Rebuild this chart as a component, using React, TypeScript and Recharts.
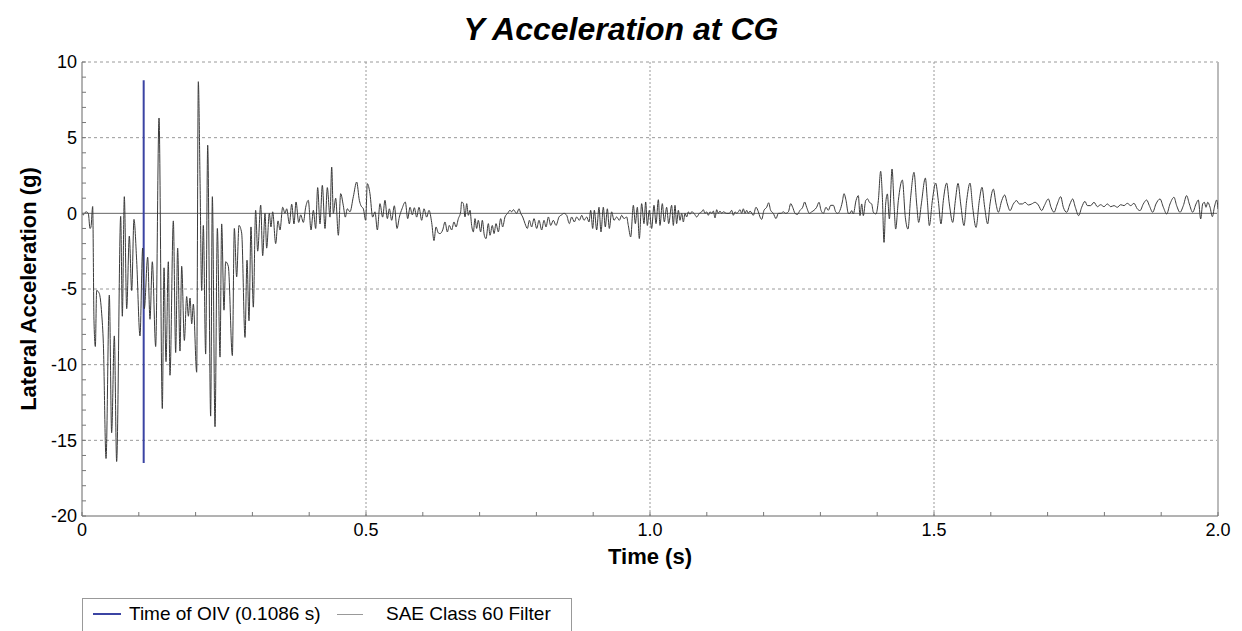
import { Line, LineChart, ReferenceLine, XAxis, YAxis } from 'recharts';

const FONT = '"Liberation Sans", Arial, sans-serif';
const SIGNAL_COLOR = '#3a3a3a';
const OIV_COLOR = '#3b44a3';
const GRID_COLOR = '#9a9a9a';

// Peak by peak: [time s, lateral accel g]
const impactPhase: [number, number][] = [
  [0, 0], [0.0023, -0.1], [0.007, 0.1], [0.0111, 0], [0.0141, -1.0], [0.0158, -0.9], [0.0188, 0.45],
  [0.0211, -7.1], [0.0235, -8.8], [0.0258, -5.1], [0.0305, -5.3], [0.0346, -6.6], [0.0376, -8.6],
  [0.0423, -16.2], [0.0481, -5.4], [0.0522, -14.5], [0.0569, -8.1], [0.061, -16.4], [0.0681, -0.2],
  [0.071, -6.8], [0.0745, 1.1], [0.0787, -6.3], [0.0833, -1.5], [0.0875, -5.1], [0.0915, -0.4],
  [0.0962, -3.1], [0.1021, -8.1], [0.1068, -2.3], [0.1097, -6.3], [0.1156, -2.9], [0.1197, -7.0],
  [0.1238, -3.2], [0.1297, -8.8], [0.1356, 6.3], [0.1414, -12.9], [0.1444, -3.6], [0.1479, -9.8],
  [0.152, -3.2],
];

const reboundPhase: [number, number][] = [
  [0.1549, -10.7], [0.1608, -0.5], [0.1649, -9.2], [0.1684, -2.3], [0.1725, -9.1], [0.1755, -3.5],
  [0.1802, -8.4], [0.1843, -5.5], [0.1873, -6.8], [0.1902, -5.6], [0.1932, -7.3], [0.196, -6.0],
  [0.2019, -10.5], [0.2048, 8.7], [0.2078, 2.2], [0.2107, -5.1], [0.2136, -0.8], [0.2177, -9.3],
  [0.2213, 4.5], [0.2265, -13.4], [0.2295, 1.1], [0.2342, -14.1], [0.2383, -1.0], [0.243, -9.5],
  [0.2459, -0.7], [0.25, -6.4], [0.2529, -3.2], [0.2576, -3.5], [0.2647, -9.4], [0.2682, -1.0],
  [0.2723, -4.2], [0.2764, -0.8], [0.2811, -1.3], [0.287, -8.2], [0.2905, -3.1], [0.294, -7.1],
  [0.2975, -0.9], [0.3016, -6.2], [0.3057, 0.2], [0.3093, -2.5], [0.3146, 0.55], [0.3181, -2.8],
  [0.3222, 0],
];

const settlingPhase: [number, number][] = [
  [0.3251, -2.3], [0.3298, 0], [0.3327, -0.9], [0.3357, 0.1], [0.341, -2.0], [0.3451, -0.5],
  [0.3486, -1.1], [0.3533, 0.4], [0.3574, 0], [0.3604, 0.3], [0.3651, -0.7], [0.3692, 0.6],
  [0.3732, -0.7], [0.3768, 0.75], [0.3815, -0.6], [0.385, -0.1], [0.3897, -0.6], [0.3938, 0.4],
  [0.3984, 0.86], [0.4032, -1.1], [0.4073, 0.2], [0.4114, -1.0], [0.4149, 1.7], [0.419, -0.7],
  [0.4231, 1.85], [0.4278, -1.0], [0.4319, 1.7], [0.4366, -0.25], [0.4396, 3.06], [0.4425, 0],
  [0.4466, 1.0], [0.4513, -1.45], [0.4554, 1.3], [0.4601, 0.5], [0.4636, -0.25], [0.4671, 0.3],
  [0.4718, 0.1], [0.4777, 1.1], [0.4836, 2.07], [0.4883, 0.86], [0.4912, 0.5], [0.4953, 0.3],
  [0.4994, -0.46], [0.5023, 1.96], [0.507, 1.3], [0.5117, -0.25], [0.5158, 0.1], [0.52, -1.1],
  [0.5246, 0.64], [0.5293, -0.25], [0.5334, 0.86], [0.5376, -0.35], [0.5411, 0.3], [0.5452, -0.46],
  [0.5499, 0.5], [0.5546, -1.0], [0.5587, -0.25], [0.5634, 0.3], [0.5692, 0.75], [0.5734, -0.35],
  [0.5775, 0.4], [0.5816, -0.1], [0.5851, 0.37], [0.5892, -0.25], [0.5933, 0.4], [0.598, -0.46],
  [0.6021, 0.3], [0.6068, -0.25], [0.6109, 0.2], [0.6156, -0.6], [0.6197, -1.8], [0.6232, -0.9],
  [0.6274, -1.3],
];

const lowLevelPhase: [number, number][] = [
  [0.6303, -1.34], [0.635, -1.1], [0.6391, -0.57], [0.6432, -1.23], [0.6467, -0.8], [0.6508, -1.1],
  [0.6549, -0.57], [0.6585, -0.9], [0.6626, -0.35], [0.6667, 0.1], [0.6684, 0.75], [0.6714, 0.64],
  [0.6743, -0.24], [0.6773, 0.64], [0.6802, -0.13], [0.6831, 0.2], [0.686, -0.8], [0.689, -1.23],
  [0.6919, -0.35], [0.6948, -1.0], [0.6977, -0.46], [0.7019, -1.23], [0.7048, -0.46], [0.7083, -1.45],
  [0.7113, -1.67], [0.7154, -0.68], [0.7183, -1.45], [0.7224, -0.8], [0.7254, -1.34], [0.7289, -0.68],
  [0.733, -1.23], [0.7371, -0.35], [0.7406, -0.9], [0.7447, -0.24], [0.7494, 0], [0.7535, 0.2],
  [0.7565, 0.1], [0.7594, 0.24], [0.7653, 0], [0.7694, 0.3], [0.7723, 0], [0.7759, -0.24],
  [0.78, -0.68], [0.7841, -1.0], [0.7876, -0.46], [0.7917, -0.9], [0.7958, -0.35], [0.8005, -1.0],
  [0.8046, -0.46], [0.8093, -1.1], [0.8134, -0.46], [0.8169, -0.9], [0.8211, -0.24], [0.8252, -0.8],
  [0.8298, -0.46], [0.8345, -0.8], [0.8398, -0.24], [0.8445, -0.1], [0.8486, 0], [0.8533, -0.13],
  [0.858, -0.68], [0.8621, -0.24], [0.8668, -0.57], [0.8709, -0.24], [0.8756, -0.46], [0.8798, -0.13],
  [0.8838, -0.46], [0.8885, -0.24], [0.8926, -0.57], [0.8956, 0.2], [0.8991, -1.0], [0.902, 0.2],
  [0.9061, -1.1], [0.9102, 0.4], [0.9137, -1.23], [0.9178, 0.4], [0.9213, -0.9], [0.9249, 0.3],
  [0.9284, -1.0], [0.9325, 0.1], [0.9366, -0.46], [0.9413, -0.24], [0.946, -0.46], [0.9501, -0.13],
  [0.9542, -0.35], [0.9589, -0.24], [0.9618, -0.8], [0.966, -1.56], [0.9707, 0.53], [0.9742, -0.68],
  [0.9777, 0.4], [0.9812, -1.67], [0.9853, 0.64], [0.9894, -0.68], [0.9924, 0.75], [0.9953, -0.8],
  [0.9988, 0.2], [1.0029, -1.0], [1.007, 0.53], [1.0106, -0.68], [1.0147, 0.9], [1.0176, -0.8],
  [1.0217, 0.64], [1.0252, -0.57], [1.0293, 0.4], [1.0329, -0.68],
];

const quietPhase: [number, number][] = [
  [1.0381, 0.53], [1.0411, -0.8], [1.044, 0.53], [1.0469, -0.68], [1.0499, 0.2], [1.0528, -0.46],
  [1.0558, 0], [1.0587, -0.57], [1.0616, 0], [1.0646, -0.24], [1.0675, 0.1], [1.0704, -0.07],
  [1.0734, 0.1], [1.0775, 0], [1.0822, -0.24], [1.0869, 0], [1.091, 0.1], [1.0939, 0.24],
  [1.0968, 0], [1.0998, 0.1], [1.1027, -0.13], [1.1056, 0.1], [1.1086, 0], [1.1115, 0.15],
  [1.1145, -0.3], [1.1174, 0.24], [1.1203, 0], [1.1232, 0.15], [1.1262, 0], [1.1291, 0.1],
  [1.135, 0], [1.1397, 0], [1.1438, 0.2], [1.1467, -0.13], [1.1497, 0.1], [1.1526, 0],
  [1.1555, 0.1], [1.1585, 0.24], [1.1614, 0], [1.1643, 0.3], [1.1673, 0], [1.1702, 0.2],
  [1.1731, 0], [1.1761, 0.15], [1.1819, -0.13], [1.1866, 0.4], [1.1908, 0.1], [1.1937, -0.24],
  [1.1966, -0.4], [1.2007, 0.2], [1.2054, 0.4], [1.2089, 0.7], [1.2124, 0.2], [1.2171, 0],
  [1.2218, -0.35], [1.226, 0], [1.2307, 0], [1.2348, 0.1], [1.2389, 0], [1.2436, 0.1],
  [1.2477, 0.64], [1.2512, 0.4], [1.2553, 0], [1.2594, -0.07], [1.2641, 0.2], [1.2688, 0.4],
  [1.2723, 0.75], [1.2758, 0.4], [1.2806, 0], [1.2847, 0.1], [1.2887, 0.2], [1.2934, 0.4],
  [1.2975, 0.73], [1.3011, 0.2], [1.3052, 0], [1.3099, 0.4], [1.314, 0.2], [1.3181, 0.53],
  [1.3228, 0.53], [1.3269, 0.1], [1.3305, 0], [1.3345, 0.2], [1.3386, 0.75], [1.3415, 1.3],
  [1.3451, 0.86], [1.3492, 0],
];

const ringingPhase: [number, number][] = [
  [1.3521, 0], [1.355, 0.18], [1.358, -0.04], [1.3627, 0.84], [1.3668, 1.17], [1.3697, -0.15],
  [1.3727, 0.62], [1.3756, -0.15], [1.3797, 0.84], [1.3832, 0.95], [1.3862, 0.73], [1.3903, 0.62],
  [1.3932, 0.07], [1.3979, -0.04], [1.402, 0.84], [1.4061, 2.78], [1.4091, 1.06], [1.412, -1.92],
  [1.4149, 0.62], [1.4179, 1.28], [1.4214, -0.37], [1.4261, 2.93], [1.4296, 0.62], [1.4325, -1.04],
  [1.4372, 0.84], [1.4443, 2.2], [1.4495, -0.26], [1.4542, -1.04], [1.4589, 1.06], [1.4648, 2.71],
  [1.4695, 0.62], [1.473, -0.6], [1.4777, 0.62], [1.4848, 2.33], [1.4883, 0.84], [1.4918, -0.81],
  [1.4971, 0.84], [1.5029, 2.0], [1.5076, 0.84], [1.5123, -0.7], [1.5164, 0.84], [1.5223, 2.0],
  [1.527, 0.62], [1.5329, -0.6], [1.5376, 0.84], [1.5423, 1.98], [1.547, 0.62], [1.5528, -0.81],
  [1.5575, 0.84], [1.5634, 2.0], [1.5681, 0.4], [1.574, -0.93], [1.5798, 0.84], [1.5845, 1.72],
  [1.5892, 0.4], [1.5945, -0.7], [1.5986, 0.62], [1.6045, 1.6], [1.6092, 0.62], [1.6133, 0.07],
  [1.6192, 0.84], [1.6244, 1.21], [1.6291, 0.62], [1.6338, 0.18], [1.6397, 0.62], [1.6455, 0.84],
  [1.6502, 0.62], [1.6556, 0.62], [1.6603, 0.73], [1.6661, 0.55], [1.672, 0.62], [1.6779, 0.73],
  [1.6837, 0.55], [1.6896, 0.18], [1.6943, 0.51], [1.7013, 0.95], [1.706, 0.4], [1.7113, 0.07],
  [1.7171, 0.62], [1.723, 1.1], [1.7277, 0.4], [1.7336, 0.07], [1.7394, 0.62], [1.7441, 0.95],
  [1.7488, 0.4], [1.7547, -0.15], [1.76, 0.4], [1.7658, 0.79], [1.77, 0.51], [1.7758, 0.51],
  [1.7817, 0.73], [1.7876, 0.44], [1.7934, 0.57], [1.7993, 0.44], [1.8052, 0.62], [1.8111, 0.44],
  [1.8169, 0.51], [1.8228, 0.4], [1.8286, 0.57], [1.8345, 0.51], [1.8404, 0.66], [1.8463, 0.51],
  [1.8521, 0.66], [1.858, 0.29], [1.8627, 0.18], [1.8685, 0.62], [1.8744, 0.88], [1.8791, 0.51],
  [1.885, 0.07], [1.8908, 0.62], [1.8979, 0.95], [1.9038, 0.4], [1.9096, -0.04], [1.9155, 0.62],
  [1.9225, 1.06], [1.9272, 0.51], [1.9331, 0.07], [1.939, 0.51], [1.9448, 1.17], [1.9495, 0.62],
  [1.9554, 0.07], [1.9613, 0.62], [1.9654, 0.88], [1.9695, -0.37], [1.973, 0.62], [1.976, 0.73],
  [1.9789, 0.4], [1.9819, 0.73], [1.986, 0.4], [1.9901, -0.22], [1.9936, 0.4], [1.9977, 0.88],
  [2.0, 0.29],
];

// Time of OIV marker and its vertical extent
const oivTime = 0.1086;
const oivRange = [-16.5, 8.8];

const xLabels = [0, 0.5, 1.0, 1.5, 2.0];
const yLabels = [-20, -15, -10, -5, 0, 5, 10];
const xGrid = [0.5, 1.0, 1.5];
const yGrid = [-15, -10, -5, 5, 10];

// minor tick positions: every 0.1 s and every 1 g
const xTicks = Array.from({ length: 21 }, (_, i) => i / 10);
const yTicks = Array.from({ length: 31 }, (_, i) => i - 20);

const signal = [...impactPhase, ...reboundPhase, ...settlingPhase, ...lowLevelPhase, ...quietPhase, ...ringingPhase].map(
  ([t, g]) => ({ t, g }),
);
const oivLine = oivRange.map((g) => ({ t: oivTime, g }));

const isLabel = (v: number, list: number[]) => list.some((l) => Math.abs(l - v) < 1e-6);

function XTick({ x, y, payload }: any) {
  const v = payload.value;
  return (
    <g>
      <line x1={x} x2={x} y1={y} y2={y - 4} stroke="#777" />
      {isLabel(v, xLabels) && (
        <text x={x} y={y + 6} dy="0.8em" textAnchor="middle" fontSize={18} fontFamily={FONT} fill="#000">
          {v === 0 ? '0' : v.toFixed(1)}
        </text>
      )}
    </g>
  );
}

function YTick({ x, y, payload }: any) {
  const v = payload.value;
  return (
    <g>
      <line x1={x} x2={x + 4} y1={y} y2={y} stroke="#777" />
      {isLabel(v, yLabels) && (
        <text x={x - 5} y={y} dy="0.36em" textAnchor="end" fontSize={18} fontFamily={FONT} fill="#000">
          {v}
        </text>
      )}
    </g>
  );
}

export default function App() {
  return (
    <div style={{ position: 'relative', width: 1242, height: 631, overflow: 'hidden', background: '#fff', fontFamily: FONT }}>
      <style>{'body{margin:0}'}</style>
      <div
        style={{
          position: 'absolute',
          top: 13,
          left: 0,
          width: 1242,
          textAlign: 'center',
          fontSize: 32,
          lineHeight: 1,
          fontWeight: 'bold',
          fontStyle: 'italic',
        }}
      >
        Y Acceleration at CG
      </div>
      <LineChart width={1242} height={631} margin={{ top: 62, right: 24, bottom: 85, left: 42 }}>
        {yGrid.map((v) => (
          <ReferenceLine key={`y${v}`} y={v} stroke={GRID_COLOR} strokeDasharray="3 3" />
        ))}
        {xGrid.map((v) => (
          <ReferenceLine key={`x${v}`} x={v} stroke={GRID_COLOR} strokeDasharray="2 2" />
        ))}
        <ReferenceLine y={0} stroke="#666" />
        <ReferenceLine x={2} stroke="#bbb" strokeWidth={2} />
        <XAxis
          type="number"
          dataKey="t"
          domain={[0, 2]}
          ticks={xTicks}
          interval={0}
          height={30}
          tickSize={0}
          tickMargin={0}
          tickLine={false}
          tick={<XTick />}
          stroke="#666"
          allowDataOverflow
        />
        <YAxis
          type="number"
          domain={[-20, 10]}
          ticks={yTicks}
          interval={0}
          width={40}
          tickSize={0}
          tickMargin={0}
          tickLine={false}
          tick={<YTick />}
          stroke="#666"
          allowDataOverflow
        />
        <Line
          data={oivLine}
          dataKey="g"
          type="linear"
          stroke={OIV_COLOR}
          strokeWidth={2}
          dot={false}
          isAnimationActive={false}
        />
        <Line
          data={signal}
          dataKey="g"
          type="monotone"
          stroke={SIGNAL_COLOR}
          strokeWidth={1}
          dot={false}
          isAnimationActive={false}
        />
      </LineChart>
      <div
        style={{
          position: 'absolute',
          left: 29,
          top: 289,
          transform: 'translate(-50%, -50%) rotate(-90deg)',
          whiteSpace: 'nowrap',
          fontSize: 22,
          lineHeight: 1,
          fontWeight: 'bold',
        }}
      >
        Lateral Acceleration (g)
      </div>
      <div
        style={{
          position: 'absolute',
          top: 546,
          left: 82,
          width: 1136,
          textAlign: 'center',
          fontSize: 22,
          lineHeight: 1,
          fontWeight: 'bold',
        }}
      >
        Time (s)
      </div>
      <div
        style={{
          position: 'absolute',
          left: 82,
          top: 598,
          width: 490,
          height: 40,
          border: '1px solid #999',
          boxSizing: 'border-box',
          fontSize: 19,
        }}
      >
        <div style={{ position: 'absolute', left: 10, top: 14, width: 28, height: 2, background: OIV_COLOR }} />
        <div style={{ position: 'absolute', left: 46, top: 4, lineHeight: '22px', whiteSpace: 'nowrap' }}>
          Time of OIV (0.1086 s)
        </div>
        <div style={{ position: 'absolute', left: 254, top: 15, width: 26, height: 1, background: '#999' }} />
        <div style={{ position: 'absolute', left: 303, top: 4, lineHeight: '22px', whiteSpace: 'nowrap' }}>
          SAE Class 60 Filter
        </div>
      </div>
    </div>
  );
}
